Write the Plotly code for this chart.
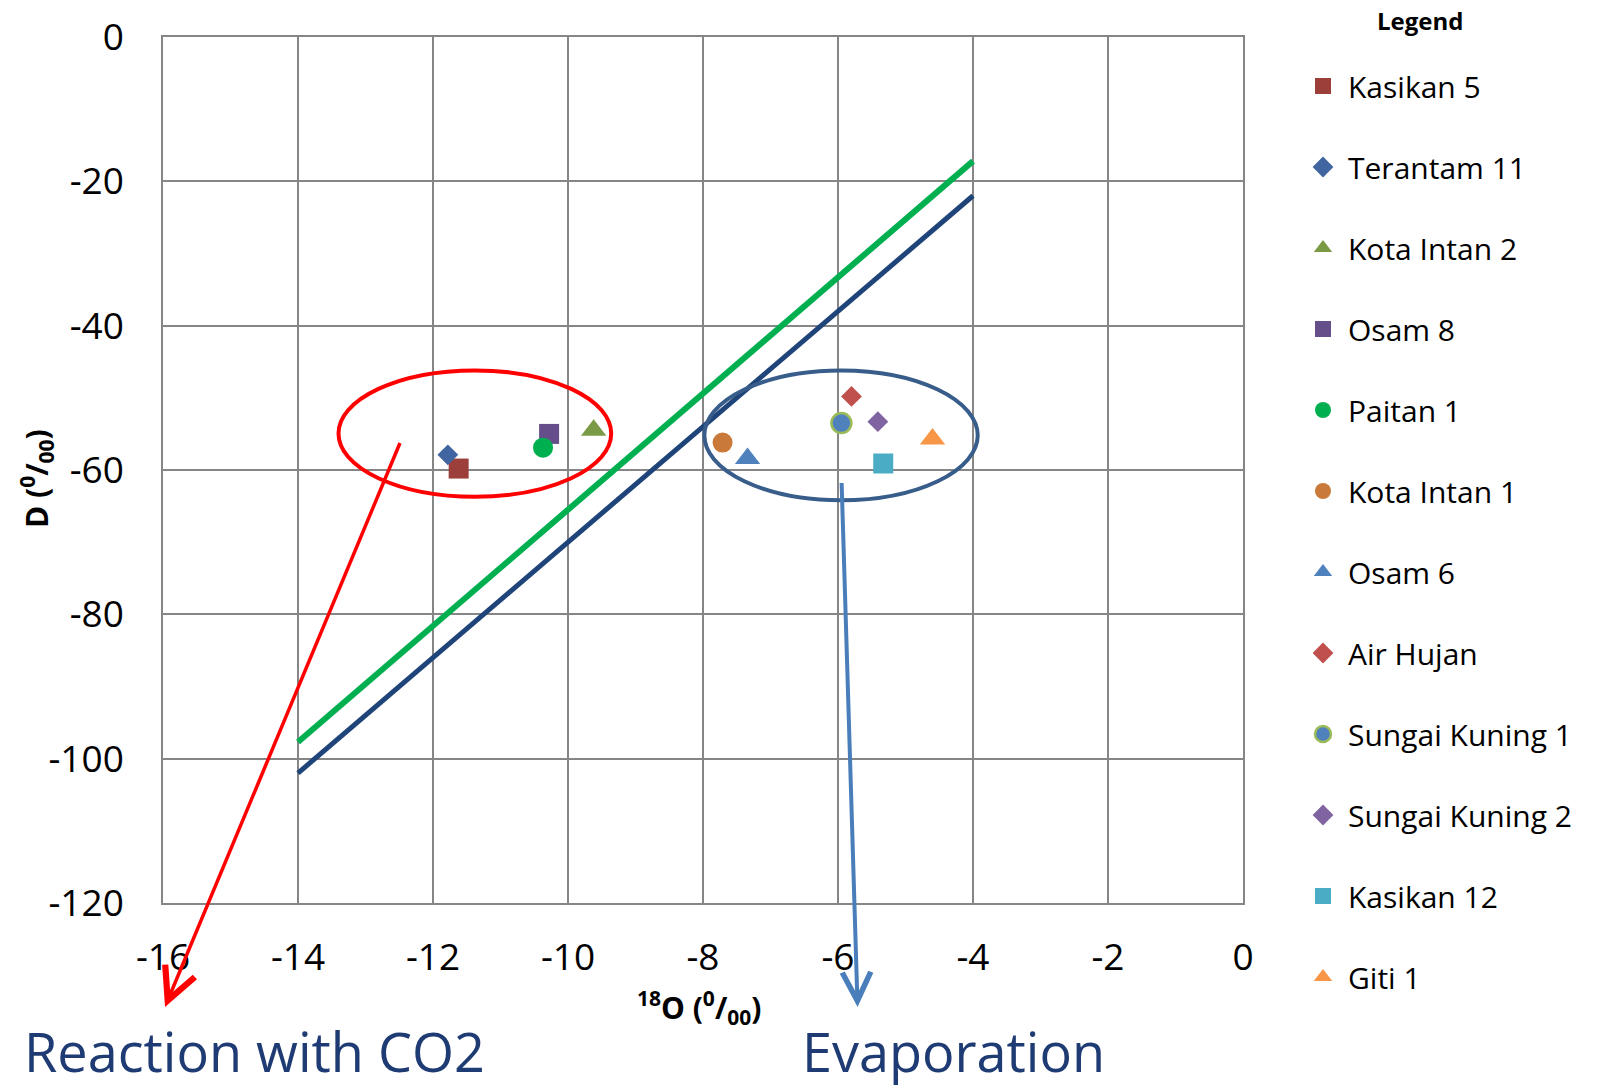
import plotly.graph_objects as go

# ---- data ----
names = ["Kasikan 5", "Terantam 11", "Kota Intan 2", "Osam 8", "Paitan 1", "Kota Intan 1",
         "Osam 6", "Air Hujan", "Sungai Kuning 1", "Sungai Kuning 2", "Kasikan 12", "Giti 1"]
o18 = [-11.62, -11.78, -9.62, -10.28, -10.37, -7.71, -7.34, -5.80, -5.95, -5.41, -5.33, -4.60]
dD = [-59.8, -57.9, -54.5, -55.0, -56.9, -56.2, -58.4, -49.8, -53.5, -53.3, -59.1, -55.7]
symbols = ["square", "diamond", "triangle-up", "square", "circle", "circle",
           "triangle-up", "diamond", "circle", "diamond", "square", "triangle-up"]
colors = ["#9C3F3B", "#4065A0", "#7A9A45", "#654E8A", "#00B050", "#C97A3A",
          "#4F81BD", "#C0504D", "#4F81BD", "#8064A2", "#4BACC6", "#F79646"]
edge_colors = [None] * 8 + ["#9BBB59"] + [None] * 3

lmwl_x = [-14, -4]
lmwl_y = [-97.7, -17.2]
gmwl_x = [-14, -4]
gmwl_y = [-102, -22]

x_ticks = [-16, -14, -12, -10, -8, -6, -4, -2, 0]
y_ticks = [-120, -100, -80, -60, -40, -20, 0]

FONT = "Open Sans"
sizes = {"square": 20, "circle": 20, "diamond": 16, "triangle-up": 22}

# plot-area pixel geometry (for placing free text in paper coords)
L, R, T, B = 163, 1243, 37, 903
PW, PH = R - L, B - T


def px(xp):
    return (xp - L) / PW


def py(yp):
    return (B - yp) / PH


fig = go.Figure()
fig.add_trace(go.Scatter(x=lmwl_x, y=lmwl_y, mode="lines", line=dict(color="#00B050", width=6),
                         showlegend=False, hoverinfo="skip"))
fig.add_trace(go.Scatter(x=gmwl_x, y=gmwl_y, mode="lines", line=dict(color="#1F4479", width=5),
                         showlegend=False, hoverinfo="skip"))

for i, n in enumerate(names):
    ec = edge_colors[i]
    fig.add_trace(go.Scatter(
        x=[o18[i]], y=[dD[i]], mode="markers", name=n, legendgroup=n,
        marker=dict(symbol=symbols[i], size=sizes[symbols[i]], color=colors[i],
                    line=dict(color=ec if ec else colors[i], width=2.5 if ec else 0)),
    ))

# ellipses
fig.add_shape(type="circle", xref="x", yref="y", x0=-13.4, x1=-9.36, y0=-63.7, y1=-46.2,
              line=dict(color="#FF0000", width=4), layer="above")
fig.add_shape(type="circle", xref="x", yref="y", x0=-7.98, x1=-3.93, y0=-64.2, y1=-46.2,
              line=dict(color="#385D8A", width=4), layer="above")

# arrows
fig.add_annotation(x=-15.97, y=-134.4, ax=-12.48, ay=-56.05, xref="x", yref="y", axref="x", ayref="y",
                   text="", showarrow=True, arrowhead=5, arrowsize=1.8, arrowwidth=3.5, arrowcolor="#FF0000")
fig.add_annotation(x=-5.71, y=-134.4, ax=-5.947, ay=-61.6, xref="x", yref="y", axref="x", ayref="y",
                   text="", showarrow=True, arrowhead=5, arrowsize=1.4, arrowwidth=4, arrowcolor="#4A7EBB")

# texts
fig.add_annotation(x=px(22), y=py(1051), xref="paper", yref="paper", xanchor="left", yanchor="middle",
                   text="Reaction with CO2", showarrow=False, font=dict(family=FONT, size=54, color="#1F3B73"))
fig.add_annotation(x=px(800), y=py(1051), xref="paper", yref="paper", xanchor="left", yanchor="middle",
                   text="Evaporation", showarrow=False, font=dict(family=FONT, size=54, color="#1F3B73"))

# axis titles
fig.add_annotation(x=px(36), y=py(479), xref="paper", yref="paper", xanchor="center", yanchor="middle",
                   text="<b>D (<sup>0</sup>/<sub>00</sub>)</b>", textangle=-90, showarrow=False,
                   font=dict(family=FONT, size=30, color="black"))
fig.add_annotation(x=px(699), y=py(1007), xref="paper", yref="paper", xanchor="center", yanchor="middle",
                   text="<b><sup>18</sup>O (<sup>0</sup>/<sub>00</sub>)</b>", showarrow=False,
                   font=dict(family=FONT, size=30, color="black"))
# legend title
fig.add_annotation(x=px(1420), y=py(20), xref="paper", yref="paper", xanchor="center", yanchor="middle",
                   text="<b>Legend</b>", showarrow=False, font=dict(family=FONT, size=24, color="black"))

axis_common = dict(showgrid=True, gridcolor="#868686", gridwidth=1.5, showline=True, linecolor="#868686",
                   linewidth=1.5, mirror=True, zeroline=False, ticks="",
                   tickfont=dict(family=FONT, size=37, color="black"))
fig.update_xaxes(range=[-16, 0], tickvals=x_ticks, ticktext=[str(v) for v in x_ticks],
                 ticklabelstandoff=21, **axis_common)
fig.update_yaxes(range=[-120, 0], tickvals=y_ticks, ticktext=[str(v) for v in y_ticks],
                 ticklabelstandoff=30, **axis_common)

fig.update_layout(
    width=1598, height=1089,
    margin=dict(l=L, r=1598 - R, t=T, b=1089 - B, autoexpand=False),
    plot_bgcolor="white", paper_bgcolor="white",
    font=dict(family=FONT, color="black"),
    legend=dict(x=px(1298), y=py(60), xanchor="left", yanchor="top", font=dict(family=FONT, size=30),
                tracegroupgap=39, itemwidth=40, maxheight=1089, bgcolor="rgba(0,0,0,0)"),
)

fig.write_html("out.html", config={"displayModeBar": False},
               post_script="document.body.style.margin='0px';document.body.style.overflow='hidden';")
